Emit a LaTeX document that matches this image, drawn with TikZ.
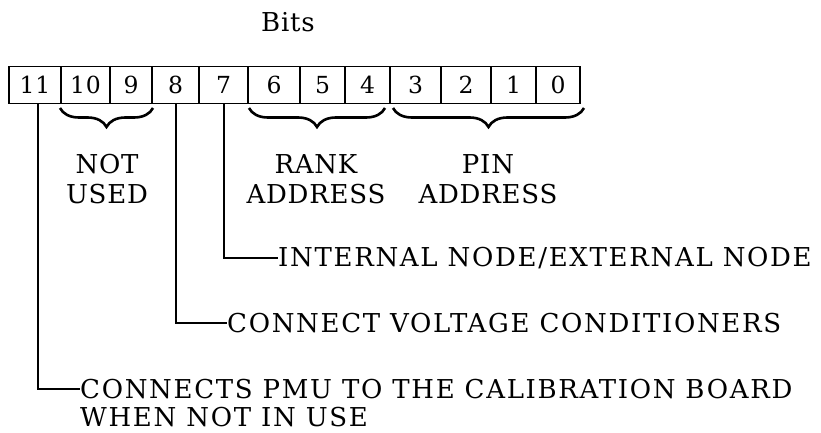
\documentclass[tikz,border=0pt]{standalone}
\usepackage{fontspec}
\setmainfont{DejaVu Serif}[LetterSpace=3]
\usetikzlibrary{decorations.pathreplacing,calc}
\begin{document}
\begin{tikzpicture}[x=1pt,y=-1pt,
  lbl/.style={font=\fontsize{26}{30}\selectfont, inner sep=0pt},
  desc/.style={lbl, anchor=west, font=\fontsize{26}{30}\selectfont\addfontfeature{LetterSpace=6.5}},
  cell/.style={draw, line width=1.6pt, minimum height=37pt, inner sep=0pt, font=\fontsize{23.5}{30}\selectfont},
  conn/.style={line width=2pt},
  brc/.style={line width=2.6pt, decorate, decoration={brace, mirror, amplitude=19pt, raise=0pt}}]
\useasboundingbox (0,0) rectangle (821,433);
\node[lbl] (bits) at (288,22) {Bits};
\foreach \l/\r/\n in {9/61/11,61/110/10,110/152/9,152/199/8,199/248/7,248/300/6,300/345/5,345/390/4,390/441/3,441/491/2,491/536/1,536/580/0}{
  \node[cell, minimum width={(\r-\l)*1pt}] (c\n) at ({(\l+\r)/2},85) {\n};
}
% braces
\coordinate (b1s) at (60,108); \coordinate (b1e) at (153,108);
\coordinate (b2s) at (249,108); \coordinate (b2e) at (385,108);
\coordinate (b3s) at (393,108); \coordinate (b3e) at (584,108);
\draw[brc] (b1s) -- (b1e);
\draw[brc] (b2s) -- (b2e);
\draw[brc] (b3s) -- (b3e);
\node[lbl, align=center] (nu) at (107,179) {NOT\\USED};
\node[lbl, align=center] (ra) at (316,179) {RANK\\ADDRESS};
\node[lbl, align=center] (pa) at (488,179) {PIN\\ADDRESS};
% descriptions
\node[desc] (t7) at (278,258) {INTERNAL NODE/EXTERNAL NODE};
\node[desc] (t8) at (227,323) {CONNECT VOLTAGE CONDITIONERS};
\node[desc] (t11) at (80,389) {CONNECTS PMU TO THE CALIBRATION BOARD};
\node[desc, anchor=base west, text depth=0pt] (t11b) at ($(t11.base west)+(0,28)$) {WHEN NOT IN USE};
\coordinate (s11) at ($(c11.south)+(3,0)$);
\draw[conn] (s11) |- (t11.west);
\draw[conn] (c8.south) |- (t8.west);
\draw[conn] (c7.south) |- (t7.west);
\end{tikzpicture}
\end{document}
